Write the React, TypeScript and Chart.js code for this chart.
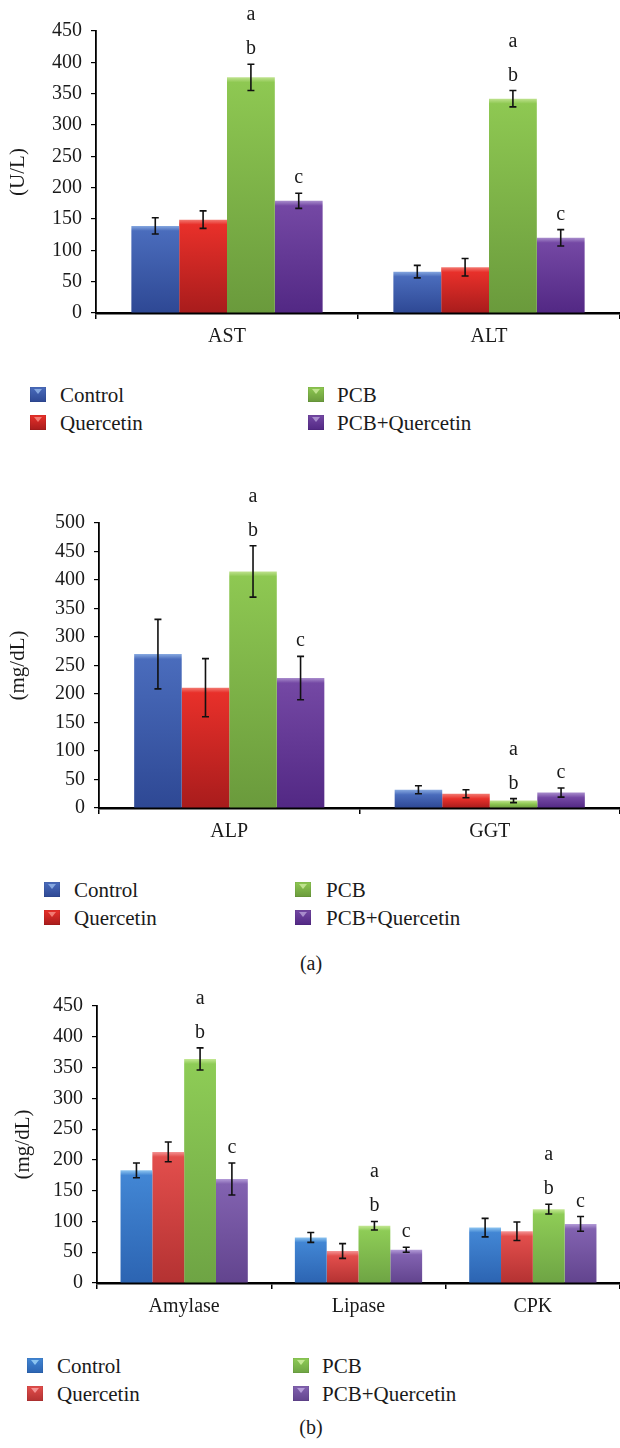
import React, { useEffect, useRef } from 'react';
import { Chart, registerables } from 'chart.js';

Chart.register(...registerables);

// ---------- data ----------
const seriesNames = ['Control', 'Quercetin', 'PCB', 'PCB+Quercetin'];

// Panel (a) top: liver enzymes (U/L)
const liverCategories = ['AST', 'ALT'];
const liverControl = [139, 66];
const liverControlErr = [13, 10];
const liverQuercetin = [149, 73];
const liverQuercetinErr = [14, 14];
const liverPcb = [376, 342];
const liverPcbErr = [21, 13];
const liverPcbQ = [179, 120];
const liverPcbQErr = [12, 13];

// Panel (a) bottom: ALP / GGT (mg/dL)
const alpCategories = ['ALP', 'GGT'];
const alpControl = [270, 32];
const alpControlErr = [61, 7];
const alpQuercetin = [211, 25];
const alpQuercetinErr = [51, 7];
const alpPcb = [415, 13];
const alpPcbErr = [45, 3.5];
const alpPcbQ = [228, 27];
const alpPcbQErr = [38, 8];

// Panel (b): Amylase / Lipase / CPK (mg/dL)
const panCategories = ['Amylase', 'Lipase', 'CPK'];
const panControl = [183, 74, 90];
const panControlErr = [12, 8, 15];
const panQuercetin = [213, 52, 84];
const panQuercetinErr = [16, 12, 15];
const panPcb = [364, 93, 120];
const panPcbErr = [18, 7, 8];
const panPcbQ = [169, 54, 96];
const panPcbQErr = [26, 4, 12];

// significance letters per series (stacked, top first)
const seriesMarks = [[], [], ['a', 'b'], ['c']];

// ---------- styles ----------
const FONT = '"Liberation Serif", "Times New Roman", serif';
const TEXT = '#1a1a1a';

type Shade = { bevel: string; top: string; bottom: string };
const paletteA: Shade[] = [
  { bevel: '#86a8e0', top: '#4a6cbc', bottom: '#2e4894' },
  { bevel: '#f27a72', top: '#e8302a', bottom: '#a81c1c' },
  { bevel: '#bfe28e', top: '#8ec852', bottom: '#6a9a3c' },
  { bevel: '#a88ccc', top: '#7448a4', bottom: '#522884' },
];
const paletteB: Shade[] = [
  { bevel: '#8cc4f0', top: '#4286d4', bottom: '#2c64b2' },
  { bevel: '#f49494', top: '#e24e4c', bottom: '#b43232' },
  { bevel: '#c4e894', top: '#8ecc56', bottom: '#6ea444' },
  { bevel: '#b49cd8', top: '#8262b0', bottom: '#62448e' },
];

function barFill(shade: Shade) {
  return (c: any) => {
    const chart = c.chart;
    if (!chart.chartArea || c.type !== 'data' || !c.parsed) return shade.top;
    const y = chart.scales.y;
    const top = y.getPixelForValue(c.parsed.y);
    const base = y.getPixelForValue(0);
    const h = Math.max(base - top, 1);
    const g = chart.ctx.createLinearGradient(0, top, 0, base);
    const band = Math.min(5 / h, 0.45);
    g.addColorStop(0, shade.bevel);
    g.addColorStop(band, shade.top);
    g.addColorStop(1, shade.bottom);
    return g;
  };
}

const overlayPlugin = {
  id: 'errorsAndMarks',
  afterDatasetsDraw(chart: any) {
    const ctx = chart.ctx;
    const y = chart.scales.y;
    chart.data.datasets.forEach((ds: any, i: number) => {
      const meta = chart.getDatasetMeta(i);
      meta.data.forEach((bar: any, j: number) => {
        const v = ds.data[j];
        const e = ds.errorBars[j];
        const x = bar.x;
        const yt = y.getPixelForValue(v + e);
        const yb = y.getPixelForValue(v - e);
        ctx.save();
        ctx.strokeStyle = '#111';
        ctx.lineWidth = 1.6;
        ctx.beginPath();
        ctx.moveTo(x, yt);
        ctx.lineTo(x, yb);
        ctx.moveTo(x - 3.5, yt);
        ctx.lineTo(x + 3.5, yt);
        ctx.moveTo(x - 3.5, yb);
        ctx.lineTo(x + 3.5, yb);
        ctx.stroke();
        const marks: string[] = ds.marks || [];
        ctx.fillStyle = TEXT;
        ctx.font = '20px ' + FONT;
        ctx.textAlign = 'center';
        ctx.textBaseline = 'alphabetic';
        const n = marks.length;
        marks.forEach((m, k) => {
          const fromBottom = n - 1 - k;
          ctx.fillText(m, x, yt - 10 - fromBottom * 34);
        });
        ctx.restore();
      });
    });
  },
};

type PanelProps = {
  top: number;
  height: number;
  padTop: number;
  axisX: number;
  baseY: number;
  categories: string[];
  values: number[][];
  errors: number[][];
  yMax: number;
  yTitle: string;
  titlePad: number;
  palette: Shade[];
};

function Panel(p: PanelProps) {
  const ref = useRef<HTMLCanvasElement | null>(null);
  useEffect(() => {
    if (!ref.current) return;
    const chart = new Chart(ref.current, {
      type: 'bar',
      data: {
        labels: p.categories,
        datasets: p.values.map((vals, i) => ({
          label: seriesNames[i],
          data: vals,
          errorBars: p.errors[i],
          marks: seriesMarks[i],
          backgroundColor: barFill(p.palette[i]),
          borderWidth: 0,
          categoryPercentage: 0.73,
          barPercentage: 1.0,
        })) as any,
      },
      options: {
        responsive: false,
        animation: false,
        layout: { padding: { top: p.padTop, left: 0, right: 0, bottom: 0 } },
        plugins: { legend: { display: false }, tooltip: { enabled: false } },
        scales: {
          x: {
            grid: { offset: true, drawOnChartArea: false, tickLength: 6, color: '#000', lineWidth: 1.5 },
            border: { color: '#000', width: 2.5 },
            ticks: { font: { size: 20, family: FONT }, color: TEXT, padding: 6 },
            afterFit: (s: any) => {
              s.height = p.height - p.baseY;
            },
          },
          y: {
            min: 0,
            max: p.yMax,
            ticks: { stepSize: 50, font: { size: 20, family: FONT }, color: TEXT, padding: 9 },
            grid: { drawOnChartArea: false, tickLength: 5, color: '#000', lineWidth: 1.2 },
            border: { color: '#000', width: 1.8 },
            title: {
              display: true,
              text: p.yTitle,
              font: { size: 21, family: FONT },
              color: TEXT,
              padding: { top: p.titlePad, bottom: 0 },
            },
            afterFit: (s: any) => {
              s.width = p.axisX;
            },
          },
        },
      } as any,
      plugins: [overlayPlugin],
    });
    return () => chart.destroy();
  }, []);
  return (
    <div style={{ position: 'absolute', left: 0, top: p.top, width: 620, height: p.height }}>
      <canvas ref={ref} width={620} height={p.height} style={{ display: 'block' }} />
    </div>
  );
}

function Marker({ shade }: { shade: Shade }) {
  return (
    <div
      style={{
        position: 'relative',
        width: 16,
        height: 15,
        background: `linear-gradient(to bottom, ${shade.top}, ${shade.bottom})`,
        boxShadow: 'inset 0 0 1px rgba(0,0,0,0.5)',
      }}
    >
      <div
        style={{
          position: 'absolute',
          left: 4,
          top: 2,
          width: 0,
          height: 0,
          borderLeft: '4px solid transparent',
          borderRight: '4px solid transparent',
          borderTop: `5px solid ${shade.bevel}`,
        }}
      />
    </div>
  );
}

type LegendProps = { row1: number; c1: number; t1: number; c2: number; t2: number; palette: Shade[] };

function Legend({ row1, c1, t1, c2, t2, palette }: LegendProps) {
  const items = [
    { i: 0, mx: c1, tx: t1, y: row1 },
    { i: 1, mx: c1, tx: t1, y: row1 + 28 },
    { i: 2, mx: c2, tx: t2, y: row1 },
    { i: 3, mx: c2, tx: t2, y: row1 + 28 },
  ];
  return (
    <>
      {items.map((it) => (
        <React.Fragment key={it.i}>
          <div style={{ position: 'absolute', left: it.mx, top: it.y - 8 }}>
            <Marker shade={palette[it.i]} />
          </div>
          <div
            style={{
              position: 'absolute',
              left: it.tx,
              top: it.y - 13,
              height: 26,
              lineHeight: '26px',
              fontFamily: FONT,
              fontSize: 21,
              color: TEXT,
              whiteSpace: 'nowrap',
            }}
          >
            {seriesNames[it.i]}
          </div>
        </React.Fragment>
      ))}
    </>
  );
}

function Caption({ text, cy }: { text: string; cy: number }) {
  return (
    <div
      style={{
        position: 'absolute',
        left: 261,
        width: 100,
        top: cy - 13,
        height: 26,
        lineHeight: '26px',
        textAlign: 'center',
        fontFamily: FONT,
        fontSize: 20,
        color: TEXT,
      }}
    >
      {text}
    </div>
  );
}

export default function App() {
  return (
    <div style={{ position: 'absolute', left: 0, top: 0, width: 620, height: 1448, background: '#fff', overflow: 'hidden' }}>
      <Panel
        top={0}
        height={360}
        padTop={31}
        axisX={96}
        baseY={313}
        categories={liverCategories}
        values={[liverControl, liverQuercetin, liverPcb, liverPcbQ]}
        errors={[liverControlErr, liverQuercetinErr, liverPcbErr, liverPcbQErr]}
        yMax={450}
        yTitle="(U/L)"
        titlePad={6}
        palette={paletteA}
      />
      <Legend row1={395} c1={30} t1={60} c2={308} t2={337} palette={paletteA} />
      <Panel
        top={470}
        height={390}
        padTop={53}
        axisX={99}
        baseY={338}
        categories={alpCategories}
        values={[alpControl, alpQuercetin, alpPcb, alpPcbQ]}
        errors={[alpControlErr, alpQuercetinErr, alpPcbErr, alpPcbQErr]}
        yMax={500}
        yTitle="(mg/dL)"
        titlePad={6}
        palette={paletteA}
      />
      <Legend row1={890} c1={44} t1={74} c2={295} t2={326} palette={paletteA} />
      <Caption text="(a)" cy={963} />
      <Panel
        top={980}
        height={350}
        padTop={26}
        axisX={97}
        baseY={303}
        categories={panCategories}
        values={[panControl, panQuercetin, panPcb, panPcbQ]}
        errors={[panControlErr, panQuercetinErr, panPcbErr, panPcbQErr]}
        yMax={450}
        yTitle="(mg/dL)"
        titlePad={11}
        palette={paletteB}
      />
      <Legend row1={1366} c1={27} t1={57} c2={293} t2={322} palette={paletteB} />
      <Caption text="(b)" cy={1427} />
    </div>
  );
}
